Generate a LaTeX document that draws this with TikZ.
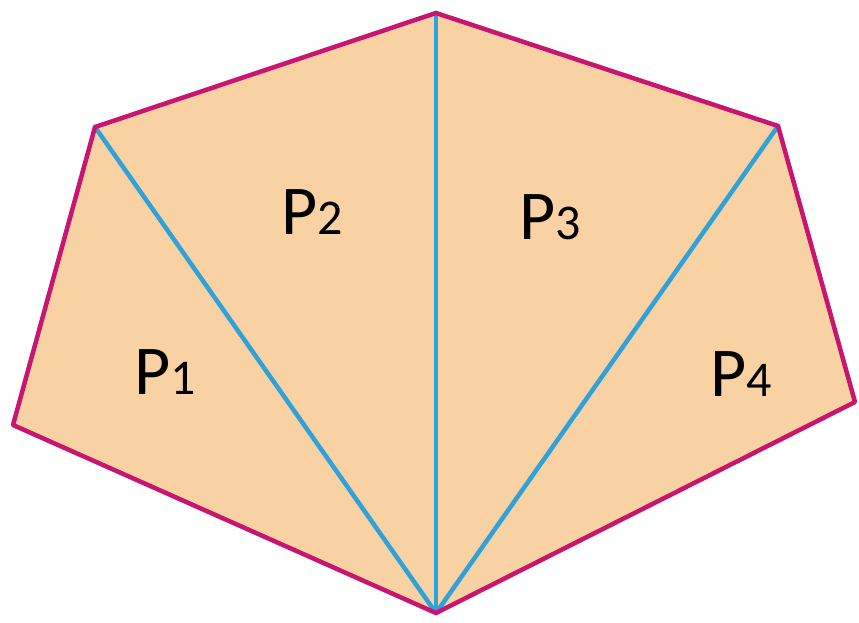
\documentclass[tikz,border=0pt]{standalone}
\usepackage{fontspec}
\setmainfont{Carlito}
\usepackage{xcolor}
\usetikzlibrary{positioning,calc}

\definecolor{peach}{RGB}{249,210,163}
\definecolor{rim}{RGB}{200,22,112}
\definecolor{diag}{RGB}{48,162,218}

\newcommand{\piece}[1]{P{\fontsize{50}{50}\selectfont #1}}

\begin{document}
\begin{tikzpicture}[x=1pt, y=1pt,
        label/.style={font=\fontsize{70}{70}\selectfont, inner sep=0pt, anchor=base},
        rimline/.style={draw=rim, line width=4.5pt, line join=round},
        diagline/.style={draw=diag, line width=4.5pt, line cap=round}
    ]
        \useasboundingbox (0,0) rectangle (859,622);
        % corners of the hexagon
        \coordinate (bot) at (436,9);
        \coordinate (lb) at (13,197);
        \coordinate (lt) at (95,495);
        \coordinate (top) at (436,609);
        \coordinate (rt) at (778,496);
        \coordinate (rb) at (855,220);

        \fill[peach] (bot) -- (lb) -- (lt) -- (top) -- (rt) -- (rb) -- cycle;

        \draw[diagline] (bot) -- (lt);
        \draw[diagline] (bot) -- (top);
        \draw[diagline] (bot) -- (rt);
        \draw[rimline] (bot) -- (lb) -- (lt) -- (top) -- (rt) -- (rb) -- cycle;

        \node[label] (p1) at (165,228) {\piece{1}};
        \node[label] (p2) at (312,387) {\piece{2}};
        \node[label] (p3) at (550,382) {\piece{3}};
        \node[label] (p4) at (741,226) {\piece{4}};
    \end{tikzpicture}
\end{document}
